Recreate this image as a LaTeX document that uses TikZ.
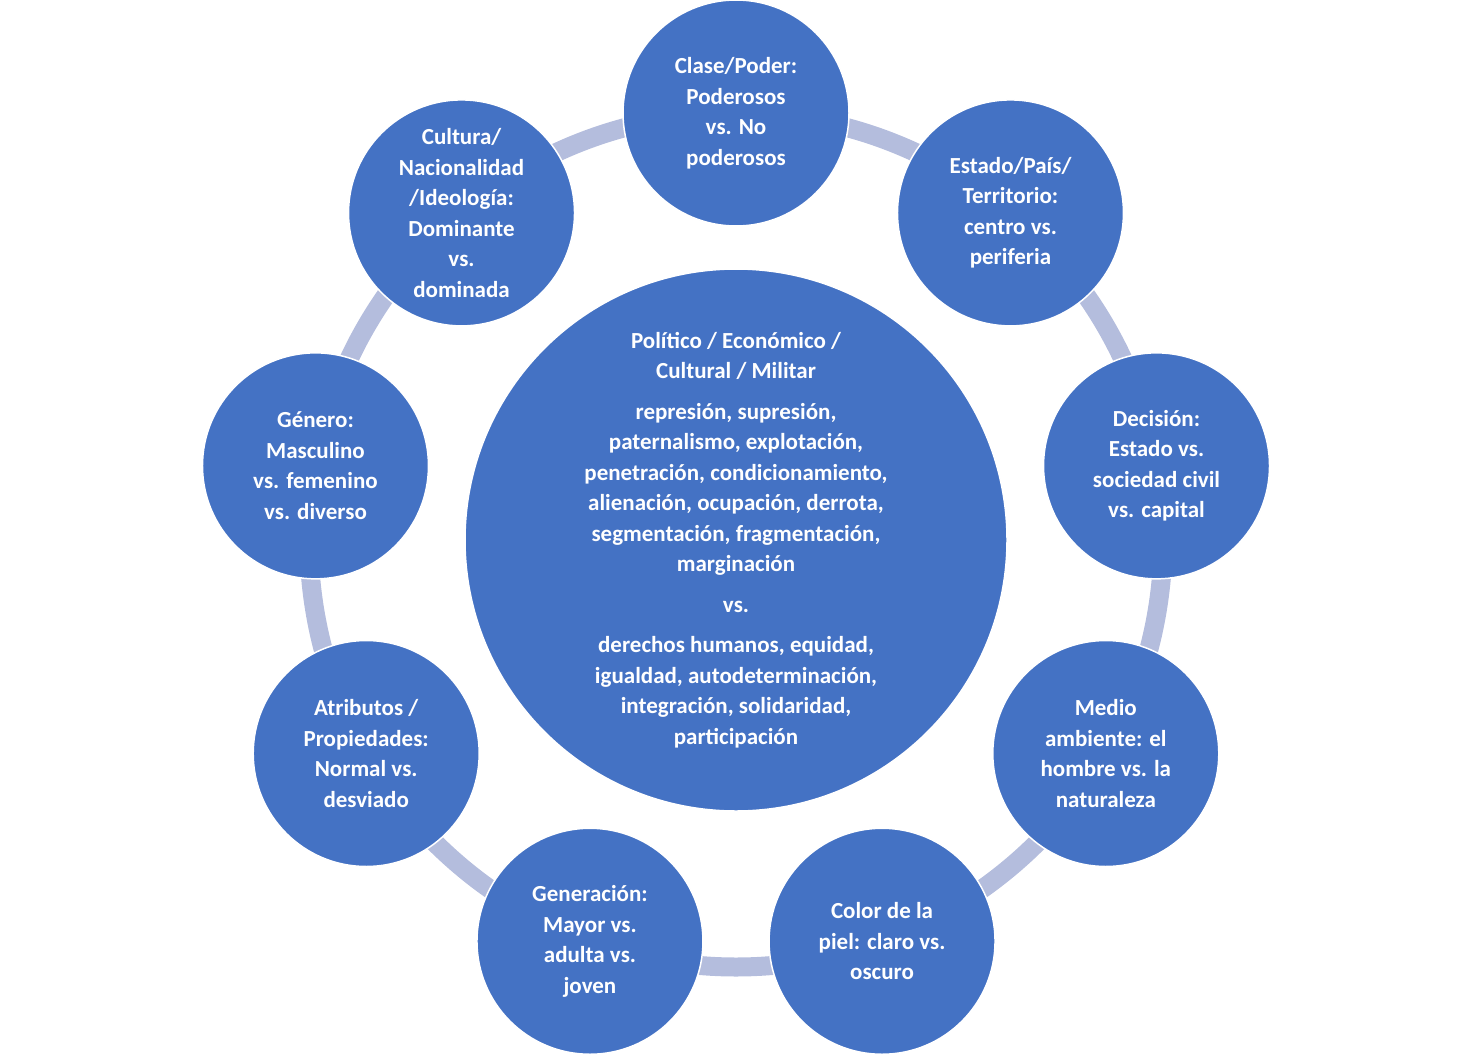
\documentclass[tikz,border=0pt]{standalone}
\usepackage{fontspec}
\setmainfont{Carlito}
\usetikzlibrary{calc}
\definecolor{blu}{HTML}{4472C4}
\definecolor{ringc}{HTML}{B4BDDD}
\begin{document}
\begin{tikzpicture}[x=1pt,y=1pt,
  outer/.style={circle,fill=blu,draw=white,line width=1.5pt,minimum size=226pt,inner sep=0pt,
    text=white,align=center,font=\fontsize{23}{30.5}\selectfont\bfseries},
  center/.style={circle,fill=blu,draw=white,line width=1.5pt,minimum size=542pt,inner sep=0pt,
    text=white,align=center,font=\fontsize{23}{30.5}\selectfont\bfseries}]
\useasboundingbox (0,0) rectangle (1474,-1054);
\coordinate (c) at (736,-540);
\draw[ringc,line width=19pt] (c) circle (427);
\node[center] (m) at (c) {Político / Económico /\\Cultural / Militar\\[10pt]
represión, supresión,\\paternalismo, explotación,\\penetración, condicionamiento,\\alienación, ocupación, derrota,\\segmentación, fragmentación,\\marginación\\[10pt]
vs.\\[10pt]
derechos humanos, equidad,\\igualdad, autodeterminación,\\integración, solidaridad,\\participación};
\node[outer] (n0) at ($(c)+(90:427)$) {Clase/Poder:\\Poderosos\\vs. No\\poderosos};
\node[outer] (n1) at ($(c)+(50:427)$) {Estado/País/\\Territorio:\\centro vs.\\periferia};
\node[outer] (n2) at ($(c)+(10:427)$) {Decisión:\\Estado vs.\\sociedad civil\\vs. capital};
\node[outer] (n3) at ($(c)+(-30:427)$) {Medio\\ambiente: el\\hombre vs. la\\naturaleza};
\node[outer] (n4) at ($(c)+(-70:427)$) {Color de la\\piel: claro vs.\\oscuro};
\node[outer] (n5) at ($(c)+(-110:427)$) {Generación:\\Mayor vs.\\adulta vs.\\joven};
\node[outer] (n6) at ($(c)+(-150:427)$) {Atributos /\\Propiedades:\\Normal vs.\\desviado};
\node[outer] (n7) at ($(c)+(170:427)$) {Género:\\Masculino\\vs. femenino\\vs. diverso};
\node[outer] (n8) at ($(c)+(130:427)$) {Cultura/\\Nacionalidad\\/Ideología:\\Dominante\\vs.\\dominada};
\end{tikzpicture}
\end{document}
